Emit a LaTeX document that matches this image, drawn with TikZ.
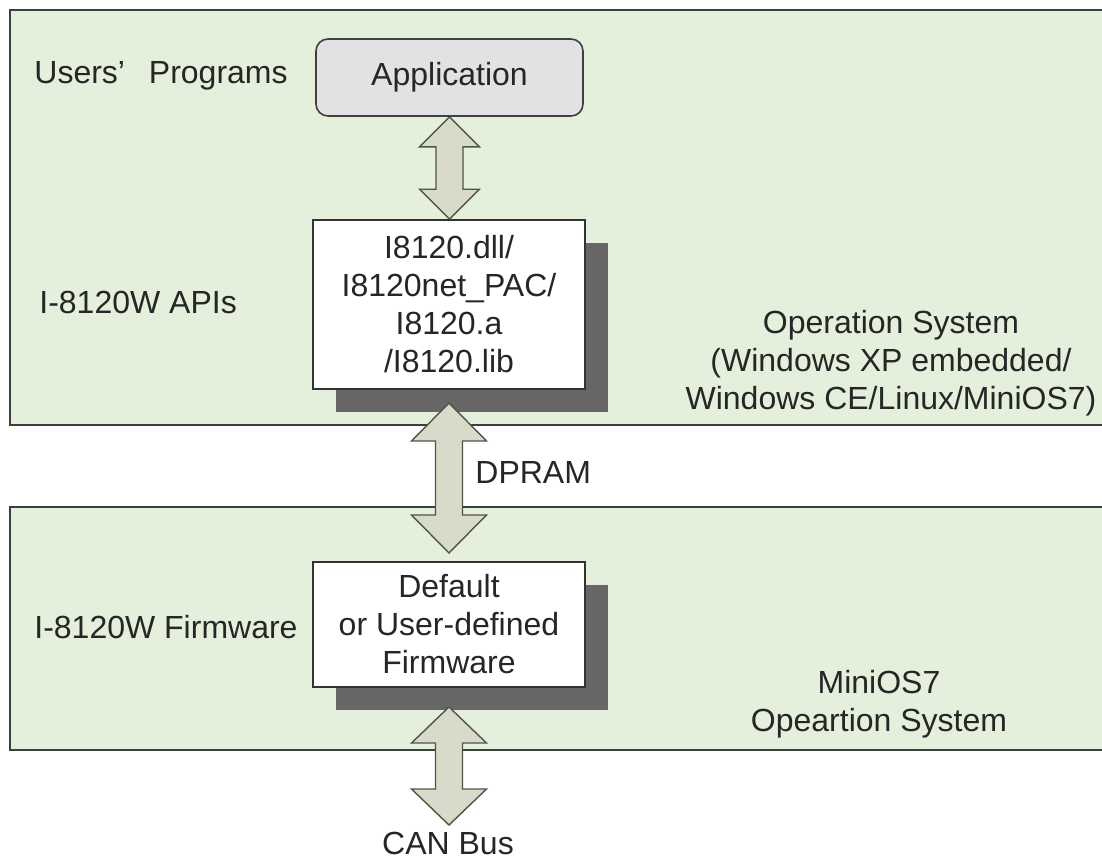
\documentclass[tikz,border=0pt]{standalone}
\usepackage{fontspec}
\setmainfont{Liberation Sans}
\usetikzlibrary{calc,shadows}
\definecolor{panelgreen}{RGB}{228,240,219}
\definecolor{panelline}{RGB}{60,64,60}
\definecolor{arrowfill}{RGB}{216,218,202}
\definecolor{arrowline}{RGB}{80,84,72}
\definecolor{shadowgray}{RGB}{102,102,102}
\definecolor{appgray}{RGB}{226,226,228}
% block double arrow: from, to, head half width, head length
\newcommand{\dblarrow}[4]{%
  \path[fatarrow] let \p1=(#1), \p2=(#2) in
    (\x1,\y1) -- ({\x1+#3},{\y1-#4}) -- ({\x1+6.75pt},{\y1-#4})
    -- ({\x1+6.75pt},{\y2+#4}) -- ({\x1+#3},{\y2+#4}) -- (\x1,\y2)
    -- ({\x1-#3},{\y2+#4}) -- ({\x1-6.75pt},{\y2+#4})
    -- ({\x1-6.75pt},{\y1-#4}) -- ({\x1-#3},{\y1-#4}) -- cycle;}
\begin{document}
\begin{tikzpicture}[x=0.5pt,y=-0.5pt,
  every node/.style={font=\fontsize{16}{19}\selectfont, text=black!85, inner sep=0pt},
  panel/.style={draw=panelline, fill=panelgreen, line width=1.2pt},
  libbox/.style={draw=black!80, fill=white, line width=0.8pt, minimum width=136pt, align=center,
    drop shadow={shadow xshift=11.5pt, shadow yshift=-11.5pt, fill=shadowgray, opacity=1}},
  appbox/.style={draw=black!75, fill=appgray, line width=0.8pt, rounded corners=6pt,
    minimum width=133.5pt, minimum height=38.5pt},
  fatarrow/.style={draw=arrowline, fill=arrowfill, line width=0.7pt, line join=miter}]
\useasboundingbox (0,0) rectangle (1102,862);
\clip (0,0) rectangle (1102,862);
\draw[panel] (10,10) rectangle (1120,425);
\draw[panel] (10,507) rectangle (1120,750);
\node[appbox] (app) at (449.5,77.5) {Application};
\node[libbox, minimum height=84.5pt] (api) at (449,304.5) {I8120.dll/\\I8120net\_PAC/\\I8120.a\\/I8120.lib};
\node[libbox, minimum height=62.5pt] (fw) at (449,624.5) {Default\\or User-defined\\Firmware};
\node[anchor=west] (users) at (34,76) {Users’\hspace{7.5pt} Programs};
\node[anchor=west] (apis) at (39,302) {I-8120W APIs};
\node[anchor=west] (fwlabel) at (34,627) {I-8120W Firmware};
\node[align=center] (os) at (891,363) {Operation System\\(Windows XP embedded/\\Windows CE/Linux/MiniOS7)};
\node[align=center] (minios) at (879,704) {MiniOS7\\Opeartion System};
\node[anchor=west] (dpram) at (475,472) {DPRAM};
\node (can) at (448,843) {CAN Bus};
\coordinate (dtop) at (449,403);
\coordinate (dbot) at (449,553);
\coordinate (cantop) at (449,707);
\coordinate (canbot) at (449,825);
\dblarrow{app.south}{api.north}{15pt}{15pt}
\dblarrow{dtop}{dbot}{18.75pt}{19pt}
\dblarrow{cantop}{canbot}{18.75pt}{18pt}
\end{tikzpicture}
\end{document}
